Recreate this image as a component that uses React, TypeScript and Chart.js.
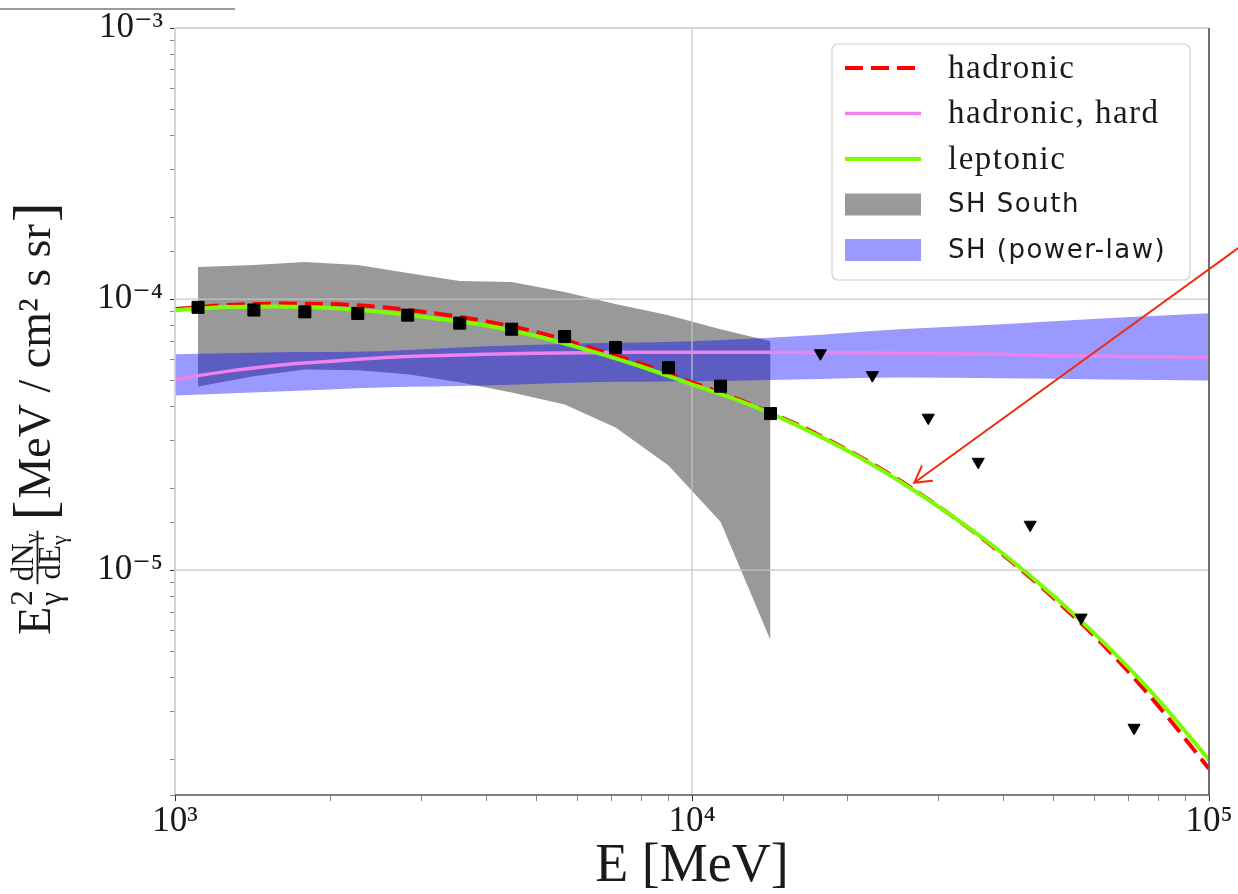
import React, { useEffect, useRef } from 'react';
import { Chart, registerables } from 'chart.js';

Chart.register(...registerables);

// ---------------- data ----------------
const curveEnergy = [1000, 1259, 1585, 1995, 2512, 3162, 3981, 5012, 6310, 7943, 10000, 12589, 15849, 19953, 25119, 31623, 39811, 50119, 63096, 79433, 100000];
const hadronicFlux = [9.18e-5, 9.5e-5, 9.62e-5, 9.58e-5, 9.34e-5, 8.87e-5, 8.29e-5, 7.55e-5, 6.64e-5, 5.79e-5, 4.93e-5, 4.19e-5, 3.47e-5, 2.78e-5, 2.154e-5, 1.598e-5, 1.146e-5, 7.87e-6, 5.19e-6, 3.19e-6, 1.85e-6];
const hadronicHardFlux = [5.05e-5, 5.41e-5, 5.7e-5, 5.89e-5, 6.07e-5, 6.18e-5, 6.26e-5, 6.31e-5, 6.34e-5, 6.36e-5, 6.36e-5, 6.36e-5, 6.36e-5, 6.34e-5, 6.31e-5, 6.29e-5, 6.26e-5, 6.18e-5, 6.15e-5, 6.13e-5, 6.1e-5];
const leptonicFlux = [9.11e-5, 9.34e-5, 9.38e-5, 9.26e-5, 8.95e-5, 8.5e-5, 8.01e-5, 7.29e-5, 6.47e-5, 5.65e-5, 4.84e-5, 4.155e-5, 3.44e-5, 2.76e-5, 2.136e-5, 1.598e-5, 1.156e-5, 8.01e-6, 5.32e-6, 3.36e-6, 1.995e-6];

const powerLawEnergy = [1000, 1585, 2512, 3981, 6310, 10000, 15849, 25119, 39811, 63096, 100000];
const powerLawUpper = [6.26e-5, 6.36e-5, 6.42e-5, 6.69e-5, 6.87e-5, 6.99e-5, 7.29e-5, 7.74e-5, 8.08e-5, 8.5e-5, 8.87e-5];
const powerLawLower = [4.41e-5, 4.56e-5, 4.72e-5, 4.8e-5, 4.93e-5, 4.97e-5, 5.05e-5, 5.14e-5, 5.1e-5, 5.05e-5, 5.01e-5];

const southEnergy = [1108, 1421, 1783, 2257, 2819, 3554, 4479, 5670, 7114, 9007, 11355, 14185];
const southUpper = [1.314e-4, 1.336e-4, 1.371e-4, 1.336e-4, 1.248e-4, 1.166e-4, 1.156e-4, 1.061e-4, 9.58e-5, 8.72e-5, 7.74e-5, 6.99e-5];
const southLower = [4.76e-5, 5.19e-5, 5.5e-5, 5.46e-5, 5.28e-5, 4.93e-5, 4.52e-5, 4.08e-5, 3.36e-5, 2.43e-5, 1.507e-5, 5.51e-6];

const pointEnergy = [1108, 1421, 1783, 2257, 2819, 3554, 4479, 5670, 7114, 9007, 11355, 14185];
const pointFlux = [9.32e-5, 9.11e-5, 8.97e-5, 8.85e-5, 8.72e-5, 8.15e-5, 7.74e-5, 7.27e-5, 6.62e-5, 5.58e-5, 4.77e-5, 3.78e-5];

const limitEnergy = [17713, 22330, 28640, 35780, 45090, 56580, 71620];
const limitFlux = [6.31e-5, 5.24e-5, 3.65e-5, 2.51e-5, 1.47e-5, 6.68e-6, 2.62e-6];

const seriesLabels = ['hadronic', 'hadronic, hard', 'leptonic', 'SH South', 'SH (power-law)'];
const xRange = [1000, 100000];
const yRange = [1.48e-6, 1e-3];
const xTitle = 'E [MeV]';
const arrowTip = { x: 26900, y: 2.1e-5 };
const arrowTail = { x: 119500, y: 1.648e-4 };

// ---------------- styles ----------------
const RED = '#ff0000';
const PINK = '#ee82ee';
const GREEN = '#7cfc00';
const GRAY = 'rgba(128,128,128,0.8)';
const BLUE = 'rgba(0,0,255,0.4)';
const TEXT = '#1a1a1a';
const SERIF = '"Liberation Serif", "DejaVu Serif", serif';
const SANS = '"DejaVu Sans", "Liberation Sans", sans-serif';
const DASH = [18, 8];

const SUP: Record<string, string> = { '-': '⁻', '0': '⁰', '1': '¹', '2': '²', '3': '³', '4': '⁴', '5': '⁵', '6': '⁶', '7': '⁷', '8': '⁸', '9': '⁹' };
const isPow10 = (v: number) => {
  const e = Math.log10(v);
  return Math.abs(e - Math.round(e)) < 1e-6;
};
const powLabel = (v: number) => {
  if (!isPow10(v)) return '';
  const r = Math.round(Math.log10(v));
  return '10' + String(r).split('').map((c) => SUP[c]).join('');
};
const pts = (xs: number[], ys: number[]) => xs.map((x, i) => ({ x, y: ys[i] }));

const legendItems = [
  { label: seriesLabels[0], kind: 'line', color: RED, width: 4, dash: DASH, font: `33px ${SERIF}` },
  { label: seriesLabels[1], kind: 'line', color: PINK, width: 3.5, dash: [], font: `33px ${SERIF}` },
  { label: seriesLabels[2], kind: 'line', color: GREEN, width: 4, dash: [], font: `33px ${SERIF}` },
  { label: seriesLabels[3], kind: 'patch', color: GRAY, width: 0, dash: [], font: `26px ${SANS}` },
  { label: seriesLabels[4], kind: 'patch', color: BLUE, width: 0, dash: [], font: `26px ${SANS}` },
];

function drawYTitle(ctx: CanvasRenderingContext2D, cx: number, cy: number) {
  const F = 46, S = 31, SS = 22, B = 60;
  const f = (s: number) => `${s}px ${SERIF}`;
  const w = (t: string, s: number) => {
    ctx.font = f(s);
    return ctx.measureText(t).width;
  };
  ctx.save();
  ctx.translate(cx, cy);
  ctx.rotate(-Math.PI / 2);
  ctx.fillStyle = TEXT;
  ctx.textBaseline = 'alphabetic';
  ctx.textAlign = 'left';
  const wE = w('E', F);
  const wSup = Math.max(w('2', S), w('γ', S));
  const wNum = w('dN', S) + w('γ', SS);
  const wDen = w('dE', S) + w('γ', SS);
  const wFrac = Math.max(wNum, wDen) + 6;
  const unit = 'MeV / cm² s sr';
  const wUnit = w(unit, F);
  const wB = w('[', B);
  const gap1 = 6, gap2 = 10;
  const total = wE + wSup + gap1 + wFrac + gap2 + wB + 2 + wUnit + 2 + wB;
  let x = -total / 2;
  ctx.font = f(F);
  ctx.fillText('E', x, 0);
  x += wE + 1;
  ctx.font = f(S);
  ctx.fillText('2', x, -0.4 * F);
  ctx.fillText('γ', x, 0.24 * F);
  x += wSup + gap1;
  const axis = -0.27 * F;
  ctx.fillRect(x, axis - 1, wFrac, 1.8);
  let nx = x + (wFrac - wNum) / 2;
  ctx.font = f(S);
  ctx.fillText('dN', nx, axis - 5);
  nx += w('dN', S);
  ctx.font = f(SS);
  ctx.fillText('γ', nx, axis - 5 + 0.2 * S);
  let dx = x + (wFrac - wDen) / 2;
  const denBase = axis + 0.72 * S;
  ctx.font = f(S);
  ctx.fillText('dE', dx, denBase);
  dx += w('dE', S);
  ctx.font = f(SS);
  ctx.fillText('γ', dx, denBase + 0.2 * S);
  x += wFrac + gap2;
  ctx.font = f(B);
  ctx.fillText('[', x, 4);
  x += wB + 2;
  ctx.font = f(F);
  ctx.fillText(unit, x, 0);
  x += wUnit + 2;
  ctx.font = f(B);
  ctx.fillText(']', x, 4);
  ctx.restore();
}

const decorPlugin = {
  id: 'decor',
  beforeDatasetsDraw(chart: any) {
    // major grid lines (above filled bands, below lines)
    const { ctx, chartArea: a, scales } = chart;
    ctx.save();
    ctx.strokeStyle = '#c4c4c4';
    ctx.lineWidth = 1.2;
    scales.x.ticks.forEach((t: any) => {
      if (!isPow10(t.value)) return;
      const px = scales.x.getPixelForValue(t.value);
      ctx.beginPath();
      ctx.moveTo(px, a.top);
      ctx.lineTo(px, a.bottom);
      ctx.stroke();
    });
    scales.y.ticks.forEach((t: any) => {
      if (!isPow10(t.value)) return;
      const py = scales.y.getPixelForValue(t.value);
      ctx.beginPath();
      ctx.moveTo(a.left, py);
      ctx.lineTo(a.right, py);
      ctx.stroke();
    });
    ctx.restore();
  },
  afterDatasetsDraw(chart: any) {
    const { ctx, chartArea: a } = chart;
    ctx.save();
    ctx.lineWidth = 1.3;
    ctx.strokeStyle = '#d2d2d2';
    ctx.beginPath();
    ctx.moveTo(a.left, a.bottom);
    ctx.lineTo(a.left, a.top);
    ctx.lineTo(a.right, a.top);
    ctx.stroke();
    ctx.strokeStyle = '#555555';
    ctx.lineWidth = 1.6;
    ctx.beginPath();
    ctx.moveTo(a.right, a.top);
    ctx.lineTo(a.right, a.bottom);
    ctx.lineTo(a.left, a.bottom);
    ctx.stroke();
    ctx.restore();
  },
  afterDraw(chart: any) {
    const { ctx, scales } = chart;
    // screenshot border at the very top
    ctx.save();
    ctx.strokeStyle = '#9a9a9a';
    ctx.lineWidth = 2;
    ctx.beginPath();
    ctx.moveTo(0, 9);
    ctx.lineTo(235, 9);
    ctx.stroke();
    ctx.restore();

    // y axis title
    drawYTitle(ctx, 50, 419);

    // legend
    ctx.save();
    const bx = 832, by = 44, bw = 358, bh = 236, r = 6;
    ctx.beginPath();
    ctx.moveTo(bx + r, by);
    ctx.arcTo(bx + bw, by, bx + bw, by + bh, r);
    ctx.arcTo(bx + bw, by + bh, bx, by + bh, r);
    ctx.arcTo(bx, by + bh, bx, by, r);
    ctx.arcTo(bx, by, bx + bw, by, r);
    ctx.closePath();
    ctx.fillStyle = 'rgba(255,255,255,0.8)';
    ctx.fill();
    ctx.strokeStyle = '#d0d0d0';
    ctx.lineWidth = 1.2;
    ctx.stroke();
    legendItems.forEach((it, i) => {
      const cy = 68 + i * 45.5;
      if (it.kind === 'line') {
        ctx.strokeStyle = it.color;
        ctx.lineWidth = it.width;
        ctx.setLineDash(it.dash);
        ctx.beginPath();
        ctx.moveTo(845, cy);
        ctx.lineTo(921, cy);
        ctx.stroke();
        ctx.setLineDash([]);
      } else {
        ctx.fillStyle = it.color;
        ctx.fillRect(845, cy - 11, 76, 22);
      }
      ctx.fillStyle = TEXT;
      ctx.font = it.font;
      (ctx as any).letterSpacing = '1.5px';
      ctx.textBaseline = 'middle';
      ctx.textAlign = 'left';
      ctx.fillText(it.label, 948, cy + 1);
    });
    (ctx as any).letterSpacing = '0px';
    ctx.restore();

    // annotation arrow
    const tx = scales.x.getPixelForValue(arrowTip.x);
    const ty = scales.y.getPixelForValue(arrowTip.y);
    const sx = scales.x.getPixelForValue(arrowTail.x);
    const sy = scales.y.getPixelForValue(arrowTail.y);
    const ang = Math.atan2(sy - ty, sx - tx);
    ctx.save();
    ctx.strokeStyle = '#f02a10';
    ctx.lineWidth = 2;
    ctx.lineCap = 'round';
    ctx.beginPath();
    ctx.moveTo(sx, sy);
    ctx.lineTo(tx, ty);
    ctx.moveTo(tx + 18 * Math.cos(ang + 0.52), ty + 18 * Math.sin(ang + 0.52));
    ctx.lineTo(tx, ty);
    ctx.lineTo(tx + 18 * Math.cos(ang - 0.52), ty + 18 * Math.sin(ang - 0.52));
    ctx.stroke();
    ctx.restore();
  },
};

export default function App() {
  const ref = useRef<HTMLCanvasElement>(null);
  useEffect(() => {
    if (!ref.current) return;
    const tickColor = (c: any) => (c.tick && isPow10(c.tick.value) ? '#333333' : '#888888');
    const chart = new Chart(ref.current, {
      type: 'line',
      data: {
        datasets: [
          { label: 'SH South lower', data: pts(southEnergy, southLower), borderColor: 'rgba(0,0,0,0)', borderWidth: 0, pointRadius: 0, fill: false, order: 10, tension: 0 },
          { label: seriesLabels[3], data: pts(southEnergy, southUpper), borderColor: 'rgba(0,0,0,0)', borderWidth: 0, pointRadius: 0, backgroundColor: GRAY, fill: '-1', order: 10, tension: 0 },
          { label: 'SH power-law lower', data: pts(powerLawEnergy, powerLawLower), borderColor: 'rgba(0,0,0,0)', borderWidth: 0, pointRadius: 0, fill: false, order: 9, cubicInterpolationMode: 'monotone' },
          { label: seriesLabels[4], data: pts(powerLawEnergy, powerLawUpper), borderColor: 'rgba(0,0,0,0)', borderWidth: 0, pointRadius: 0, backgroundColor: BLUE, fill: '-1', order: 9, cubicInterpolationMode: 'monotone' },
          { label: seriesLabels[1], data: pts(curveEnergy, hadronicHardFlux), borderColor: PINK, borderWidth: 3.5, pointRadius: 0, fill: false, order: 5, cubicInterpolationMode: 'monotone' },
          { label: seriesLabels[0], data: pts(curveEnergy, hadronicFlux), borderColor: RED, borderWidth: 4, borderDash: DASH, pointRadius: 0, fill: false, order: 4, cubicInterpolationMode: 'monotone' },
          { label: seriesLabels[2], data: pts(curveEnergy, leptonicFlux), borderColor: GREEN, borderWidth: 4, pointRadius: 0, fill: false, order: 3, cubicInterpolationMode: 'monotone' },
          { label: 'data', data: pts(pointEnergy, pointFlux), showLine: false, pointStyle: 'rect', pointRadius: 8.5, pointBackgroundColor: '#000', pointBorderColor: '#000', pointBorderWidth: 1, order: 1 },
          { label: 'upper limits', data: pts(limitEnergy, limitFlux), showLine: false, pointStyle: 'triangle', pointRotation: 180, pointRadius: 7, pointBackgroundColor: '#000', pointBorderColor: '#000', pointBorderWidth: 1, order: 1 },
        ] as any,
      },
      options: {
        responsive: false,
        animation: false,
        events: [],
        layout: { padding: { top: 28, right: 29, left: 0, bottom: 0 } },
        plugins: {
          legend: { display: false },
          tooltip: { enabled: false },
          filler: { drawTime: 'beforeDatasetsDraw', propagate: false },
        } as any,
        scales: {
          x: {
            type: 'logarithmic',
            min: xRange[0],
            max: xRange[1],
            afterFit: (s: any) => {
              s.height = 99;
              s.paddingLeft = 0;
              s.paddingRight = 0;
            },
            border: { display: false },
            grid: { drawOnChartArea: false, drawTicks: true, tickLength: 6, color: 'rgba(0,0,0,0)', tickColor },
            ticks: {
              autoSkip: false,
              maxRotation: 0,
              minRotation: 0,
              padding: 0,
              color: TEXT,
              font: { family: SERIF, size: 35 },
              callback: (v: any) => powLabel(Number(v)),
            },
            title: { display: true, text: xTitle, color: TEXT, font: { family: SERIF, size: 54 }, padding: { top: 0, bottom: -5 } },
          },
          y: {
            type: 'logarithmic',
            min: yRange[0],
            max: yRange[1],
            afterFit: (s: any) => {
              s.width = 175;
              s.paddingTop = 0;
              s.paddingBottom = 0;
            },
            border: { display: false },
            grid: { drawOnChartArea: false, drawTicks: true, tickLength: 5, color: 'rgba(0,0,0,0)', tickColor },
            ticks: {
              autoSkip: false,
              padding: 7,
              color: TEXT,
              font: { family: SERIF, size: 35 },
              callback: (v: any) => powLabel(Number(v)),
            },
          },
        } as any,
      },
      plugins: [decorPlugin],
    });
    return () => chart.destroy();
  }, []);
  return (
    <div style={{ position: 'absolute', left: 0, top: 0, width: 1238, height: 894, background: '#ffffff', overflow: 'hidden' }}>
      <canvas ref={ref} width={1238} height={894} style={{ display: 'block' }} />
    </div>
  );
}
